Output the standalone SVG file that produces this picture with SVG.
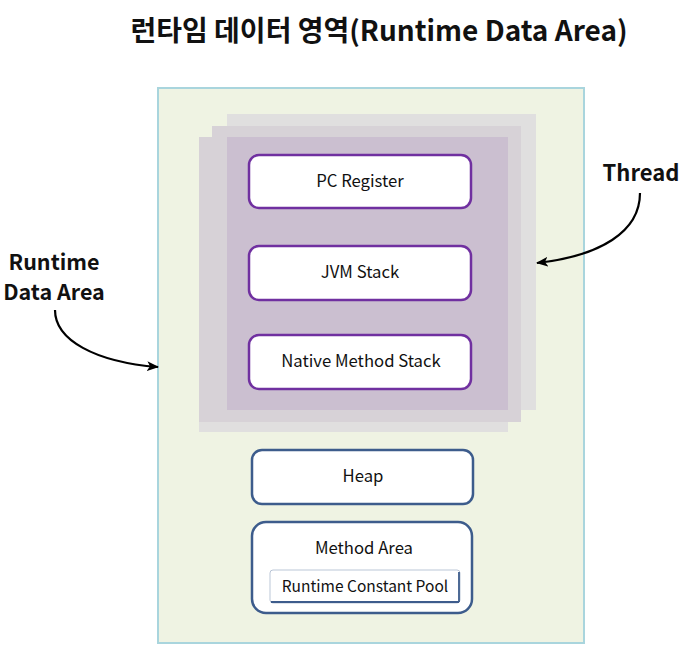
<svg xmlns="http://www.w3.org/2000/svg" width="696" height="652" viewBox="0 0 696 652">
<defs>
<style>
text{font-family:"Noto Sans CJK KR","Noto Sans",sans-serif;fill:#111;text-anchor:middle}
.t{font-size:16.7px}
.b{font-weight:bold}
.pbox{fill:#fff;stroke:#7030a0;stroke-width:2.5}
.bbox{fill:#fff;stroke:#3d5c8c;stroke-width:2.5}
.conn{fill:none;stroke:#000;stroke-width:2.2}
</style>
<marker id="ah" viewBox="0 0 12 10" refX="11" refY="5" markerWidth="12" markerHeight="10" markerUnits="userSpaceOnUse" orient="auto">
<path d="M0,0 L12,5 L0,10 L3,5 Z" fill="#000"/>
</marker>
</defs>
<rect width="696" height="652" fill="#fff"/>
<text x="379" y="41" class="b" style="font-size:28px">런타임 데이터 영역(Runtime Data Area)</text>
<g id="runtime-data-area">
<rect x="158" y="88" width="426" height="555" fill="#eff3e3" stroke="#a9d5dd" stroke-width="2"/>
</g>
<g id="thread">
<rect x="227" y="114" width="309" height="296" fill="#e0dfdf"/>
<rect x="212" y="126" width="309" height="296" fill="#e0dfdf"/>
<rect x="199" y="137" width="309" height="295" fill="#e0dfdf"/>
<rect x="212" y="126" width="309" height="284" fill="#d7d2d7"/>
<rect x="199" y="137" width="322" height="285" fill="#d7d2d7"/>
<rect x="227" y="126" width="294" height="284" fill="#d7d2d7"/>
<rect x="227" y="137" width="281" height="273" fill="#cbbfd0"/>
</g>
<g id="pc-register">
<rect class="pbox" x="249" y="155" width="222" height="53" rx="10"/>
<text class="t" x="360" y="187">PC Register</text>
</g>
<g id="jvm-stack">
<rect class="pbox" x="249" y="246" width="222" height="54" rx="10"/>
<text class="t" x="360" y="278">JVM Stack</text>
</g>
<g id="native-method-stack">
<rect class="pbox" x="249" y="335" width="222" height="54" rx="10"/>
<text class="t" x="361" y="367">Native Method Stack</text>
</g>
<g id="heap">
<rect class="bbox" x="252" y="450" width="221" height="54" rx="10"/>
<text class="t" x="363" y="482">Heap</text>
</g>
<g id="method-area">
<rect class="bbox" x="252" y="522" width="220" height="91" rx="14"/>
<text class="t" x="364" y="554">Method Area</text>
</g>
<g id="runtime-constant-pool">
<rect x="270" y="570" width="190" height="33" rx="3" fill="#fff" stroke="#3d5c8c" stroke-width="1" stroke-opacity="0.35"/>
<path d="M271,602 H459 M459,572 V602" fill="none" stroke="#3d5c8c" stroke-width="1.8"/>
<text x="365" y="592" style="font-size:15.5px">Runtime Constant Pool</text>
</g>
<g id="label-runtime">
<text x="54" y="270" class="b" style="font-size:21.5px">Runtime</text>
<text x="54" y="300" class="b" style="font-size:21.5px">Data Area</text>
</g>
<g id="label-thread">
<text x="641" y="181" class="b" style="font-size:22px">Thread</text>
</g>
<g id="connectors">
<path class="conn" d="M55,310 C55,340 95,362 158,367" marker-end="url(#ah)"/>
<path class="conn" d="M640,193 C640,232 600,256 537,263" marker-end="url(#ah)"/>
</g>
</svg>
